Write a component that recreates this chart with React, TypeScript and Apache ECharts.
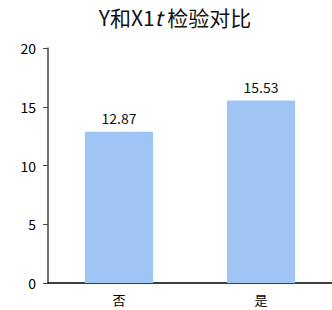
import React, { useEffect, useRef } from "react";
import * as echarts from "echarts";

const categories = ["否", "是"];
const meanValues = [12.87, 15.53];
const yTicks = { min: 0, max: 20, interval: 5 };

export default function App() {
  const ref = useRef<HTMLDivElement>(null);
  useEffect(() => {
    if (!ref.current) return;
    const chart = echarts.init(ref.current, undefined, { renderer: "svg" });
    const font = "'Noto Sans CJK SC', 'Noto Sans', sans-serif";
    chart.setOption({
      animation: false,
      textStyle: { fontFamily: font },
      title: {
        text: "Y和X1{i|t} 检验对比",
        left: 170,
        textAlign: "center",
        top: 1,
        textStyle: {
          fontSize: 21,
          fontWeight: "normal",
          color: "#111",
          fontFamily: font,
          rich: {
            i: { fontSize: 21, fontStyle: "italic", color: "#111", fontFamily: font },
          },
        },
      },
      grid: { left: 48, right: -7, top: 48, bottom: 27, containLabel: false },
      xAxis: {
        type: "category",
        data: categories,
        axisLine: { lineStyle: { color: "#000", width: 1.5 } },
        axisTick: { show: false },
        axisLabel: { color: "#000", fontSize: 13, margin: 10, fontFamily: font },
      },
      yAxis: {
        type: "value",
        min: yTicks.min,
        max: yTicks.max,
        interval: yTicks.interval,
        axisLine: { show: true, lineStyle: { color: "#444", width: 1.5 } },
        axisTick: { show: true, length: 5, lineStyle: { color: "#444" } },
        splitLine: { show: false },
        axisLabel: { color: "#000", fontSize: 14, margin: 12, fontFamily: font },
      },
      series: [
        {
          type: "bar",
          data: meanValues,
          barWidth: "48%",
          itemStyle: { color: "#9ec5f3" },
          label: {
            show: true,
            position: "top",
            distance: 7,
            color: "#111",
            fontSize: 14,
            fontFamily: font,
            formatter: (p: any) => p.value.toFixed(2),
          },
        },
      ],
    });
    return () => chart.dispose();
  }, []);
  return (
    <div
      ref={ref}
      style={{ position: "absolute", left: 0, top: 0, width: 332, height: 310 }}
    />
  );
}
